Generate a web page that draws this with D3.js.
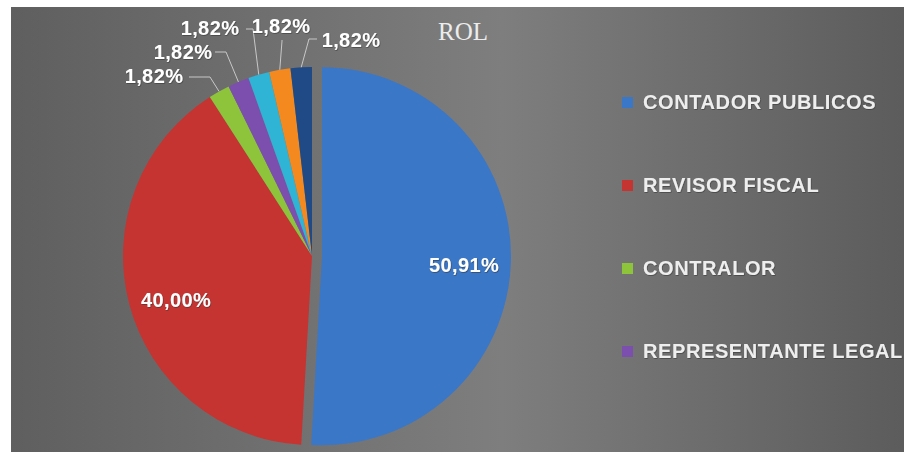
<!DOCTYPE html>
<html>
<head>
<meta charset="utf-8">
<script src="https://cdn.jsdelivr.net/npm/d3@7"></script>
<style>
  html, body { margin: 0; padding: 0; background: #ffffff; }
  svg { display: block; }
</style>
</head>
<body>
<svg id="chart" width="904" height="458"></svg>
<script>
// ---- data ----
const categories = ["CONTADOR PUBLICOS", "REVISOR FISCAL", "CONTRALOR", "REPRESENTANTE LEGAL", "OTRO 1", "OTRO 2", "OTRO 3"];
const counts = [28, 22, 1, 1, 1, 1, 1];
const percentLabels = ["50,91%", "40,00%", "1,82%", "1,82%", "1,82%", "1,82%", "1,82%"];
const colors = ["#3b77c7", "#c63431", "#8ec43c", "#7c4fae", "#2fb4d6", "#f48a1f", "#1f4a86"];
const legendItems = ["CONTADOR PUBLICOS", "REVISOR FISCAL", "CONTRALOR", "REPRESENTANTE LEGAL"];
const title = "ROL";

// ---- layout ----
const svg = d3.select("#chart");
const panel = { x: 11, y: 7, w: 893, h: 445 };
const cx = 312, cy = 256, R = 189;
const explode = [10, 0, 0, 0, 0, 0, 0];

const defs = svg.append("defs");
const grad = defs.append("linearGradient").attr("id", "bg").attr("x1", "0%").attr("x2", "100%").attr("y1", "0%").attr("y2", "0%");
grad.append("stop").attr("offset", "0%").attr("stop-color", "#5f5f5f");
grad.append("stop").attr("offset", "55%").attr("stop-color", "#7e7e7e");
grad.append("stop").attr("offset", "100%").attr("stop-color", "#5c5c5c");

svg.append("rect").attr("x", panel.x).attr("y", panel.y).attr("width", panel.w).attr("height", panel.h).attr("fill", "url(#bg)");

const filt = defs.append("filter").attr("id", "shadow").attr("x", "-10%").attr("y", "-10%").attr("width", "120%").attr("height", "130%");
filt.append("feDropShadow").attr("dx", 0.6).attr("dy", 0.8).attr("stdDeviation", 0.6).attr("flood-color", "#303030").attr("flood-opacity", 0.7);

// title
svg.append("text").attr("x", 463).attr("y", 40).attr("text-anchor", "middle")
  .attr("font-family", "'Liberation Serif', 'DejaVu Serif', serif").attr("font-size", 25)
  .attr("fill", "#ececec").text(title);

// pie
const pie = d3.pie().value(d => d).sort(null);
const arcs = pie(counts);
const arc = d3.arc().innerRadius(0).outerRadius(R);

const g = svg.append("g").attr("transform", `translate(${cx},${cy})`);
g.selectAll("path.slice").data(arcs).join("path").attr("class", "slice")
  .attr("d", arc)
  .attr("fill", (d, i) => colors[i])
  .attr("transform", (d, i) => {
    const a = (d.startAngle + d.endAngle) / 2;
    return `translate(${explode[i] * Math.sin(a)},${-explode[i] * Math.cos(a)})`;
  });

const labelFont = "'Liberation Sans', Arial, sans-serif";

// inner labels for big slices
const innerPos = [[464, 272], [176, 307]];
[0, 1].forEach(i => {
  svg.append("text").attr("x", innerPos[i][0]).attr("y", innerPos[i][1]).attr("text-anchor", "middle")
    .attr("font-family", labelFont).attr("font-weight", "bold").attr("font-size", 20)
    .attr("letter-spacing", 0.4)
    .attr("fill", "#ffffff").attr("filter", "url(#shadow)").text(percentLabels[i]);
});

// outer labels for small slices
const outerLayout = {
  2: { tx: 154, ty: 83, l: [[189, 77], [210, 77]] },
  3: { tx: 183, ty: 59, l: [[215, 52], [226, 52]] },
  4: { tx: 210, ty: 35, l: [[246, 29], [253, 29]] },
  5: { tx: 281, ty: 33, l: [[282, 40], [282, 41]] },
  6: { tx: 351, ty: 47, l: [[317, 39], [309, 39]] }
};
Object.keys(outerLayout).forEach(k => {
  const i = +k, L = outerLayout[k];
  const a = (arcs[i].startAngle + arcs[i].endAngle) / 2;
  const end = [cx + R * Math.sin(a), cy - R * Math.cos(a)];
  const pts = [L.l[0], L.l[1], end];
  svg.append("path").attr("d", d3.line()(pts)).attr("fill", "none")
    .attr("stroke", "#c8c8c8").attr("stroke-width", 1);
  svg.append("text").attr("x", L.tx).attr("y", L.ty).attr("text-anchor", "middle")
    .attr("font-family", labelFont).attr("font-weight", "bold").attr("font-size", 20)
    .attr("letter-spacing", 0.4)
    .attr("fill", "#ffffff").attr("filter", "url(#shadow)").text(percentLabels[i]);
});

// legend
const legendY = d3.scalePoint().domain(legendItems).range([109, 358]);
const lg = svg.append("g");
legendItems.forEach((name) => {
  const y = legendY(name);
  lg.append("rect").attr("x", 622).attr("y", y - 12).attr("width", 11).attr("height", 11)
    .attr("fill", colors[categories.indexOf(name)]);
  lg.append("text").attr("x", 643).attr("y", y)
    .attr("font-family", labelFont).attr("font-weight", "bold").attr("font-size", 20)
    .attr("letter-spacing", 0.6)
    .attr("fill", "#eeeeee").attr("filter", "url(#shadow)").text(name);
});
</script>
</body>
</html>
